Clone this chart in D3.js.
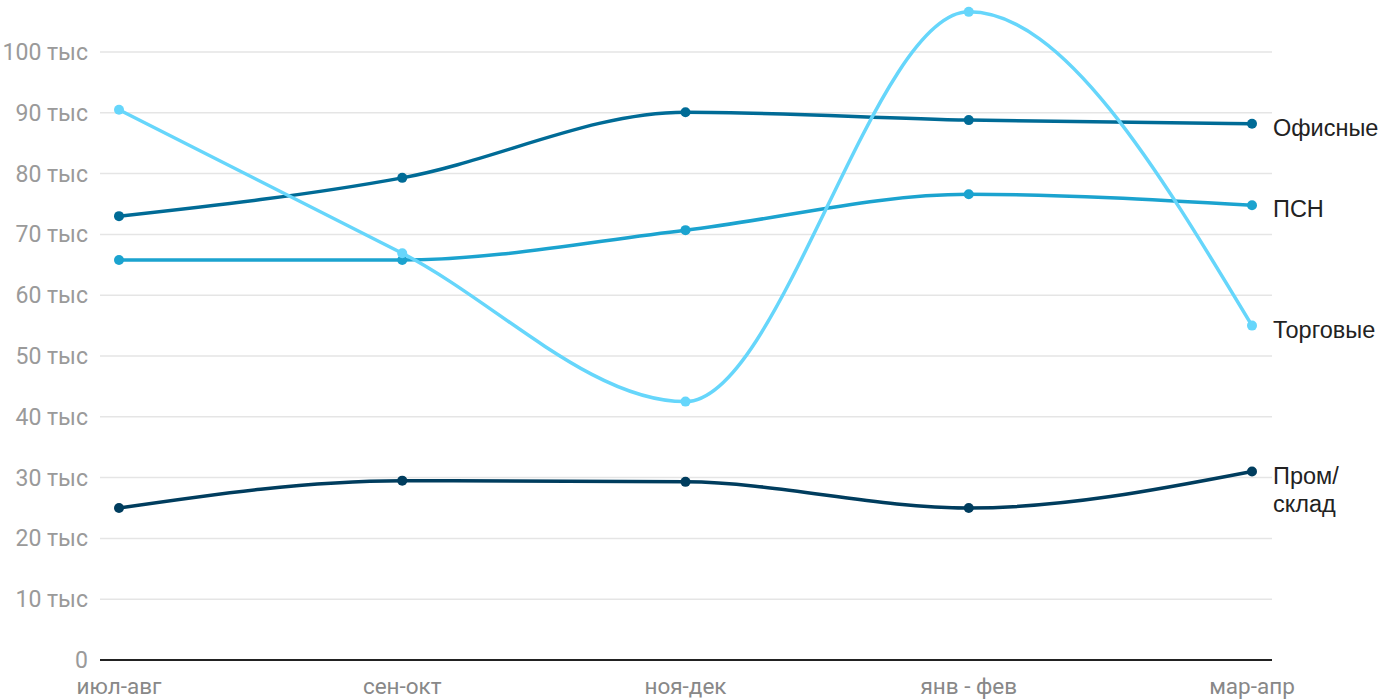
<!DOCTYPE html>
<html>
<head>
<meta charset="utf-8">
<script src="https://cdn.jsdelivr.net/npm/d3@7"></script>
<style>
  body { margin: 0; background: #fff; }
  text { font-family: Roboto, "Liberation Sans", sans-serif; }
</style>
</head>
<body>
<script>
const periods = ['июл-авг', 'сен-окт', 'ноя-дек', 'янв - фев', 'мар-апр'];
const seriesNames = ['Офисные', 'ПСН', 'Торговые', 'Пром/склад'];
const office = [73, 79.3, 90.1, 88.8, 88.2];
const psn = [65.8, 65.8, 70.7, 76.6, 74.8];
const retail = [90.5, 66.9, 42.5, 106.6, 55.0];
const warehouse = [25.0, 29.5, 29.3, 25.0, 31.0];
const yTicks = [0, 10, 20, 30, 40, 50, 60, 70, 80, 90, 100];

const series = [
  { name: 'Офисные', lines: ['Офисные'], values: office, color: '#006b96' },
  { name: 'ПСН', lines: ['ПСН'], values: psn, color: '#1ba3cf' },
  { name: 'Торговые', lines: ['Торговые'], values: retail, color: '#66d6fb' },
  { name: 'Пром/склад', lines: ['Пром/', 'склад'], values: warehouse, color: '#003d5e' }
];

const svg = d3.select('body').append('svg')
    .attr('width', 1400)
    .attr('height', 700);

const x = d3.scalePoint()
    .domain(periods)
    .range([119, 1252]);

const y = d3.scaleLinear()
    .domain([0, 100])
    .range([660, 52]);

// grid
svg.append('g')
    .selectAll('line')
    .data(yTicks.filter(d => d > 0))
    .enter()
    .append('line')
    .attr('x1', 100)
    .attr('x2', 1272)
    .attr('y1', d => y(d))
    .attr('y2', d => y(d))
    .attr('stroke', '#e5e5e5')
    .attr('stroke-width', 1.5);

// y labels
svg.append('g')
    .selectAll('text')
    .data(yTicks)
    .enter()
    .append('text')
    .attr('x', 88)
    .attr('y', d => y(d) + 8)
    .attr('text-anchor', 'end')
    .attr('fill', '#9a9a9a')
    .attr('font-size', '23px')
    .text(d => d === 0 ? '0' : d + ' тыс');

// baseline
svg.append('line')
    .attr('x1', 100)
    .attr('x2', 1272)
    .attr('y1', y(0))
    .attr('y2', y(0))
    .attr('stroke', '#222')
    .attr('stroke-width', 2);

// x labels
svg.append('g')
    .selectAll('text')
    .data(periods)
    .enter()
    .append('text')
    .attr('x', d => x(d))
    .attr('y', 694)
    .attr('text-anchor', 'middle')
    .attr('fill', '#888')
    .attr('font-size', '22.5px')
    .text(d => d);

const line = d3.line()
    .x((d, i) => x(periods[i]))
    .y(d => y(d))
    .curve(d3.curveMonotoneX);

const g = svg.selectAll('g.series')
    .data(series)
    .enter()
    .append('g')
    .attr('class', 'series');

g.append('path')
    .attr('d', d => line(d.values))
    .attr('fill', 'none')
    .attr('stroke', d => d.color)
    .attr('stroke-width', 3.5);

g.selectAll('circle')
    .data(d => d.values.map(v => ({ v, color: d.color })))
    .enter()
    .append('circle')
    .attr('cx', (d, i) => x(periods[i]))
    .attr('cy', d => y(d.v))
    .attr('r', 5)
    .attr('fill', d => d.color);

const lbl = g.append('text')
    .attr('x', 1273)
    .attr('y', d => y(d.values[d.values.length - 1]) + 12)
    .attr('fill', '#222')
    .attr('font-size', '23.5px')
    .style('font-family', '"Liberation Sans", Arial, sans-serif');

lbl.selectAll('tspan')
    .data(d => d.lines)
    .enter()
    .append('tspan')
    .attr('x', 1273)
    .attr('dy', (d, i) => i === 0 ? 0 : 28)
    .text(d => d);
</script>
</body>
</html>
